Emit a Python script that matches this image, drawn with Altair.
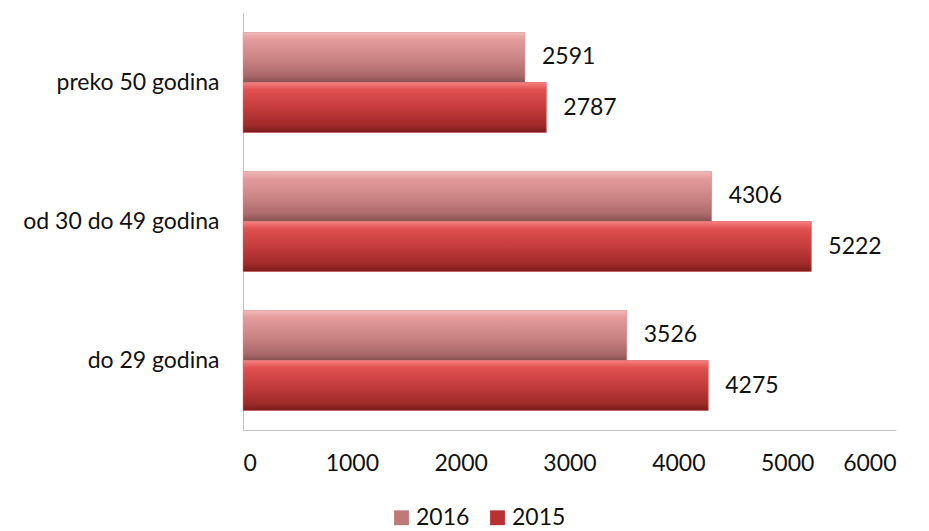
import altair as alt
import pandas as pd

categories = ["preko 50 godina", "od 30 do 49 godina", "do 29 godina"]
years = ["2016", "2015"]
values_2016 = [2591, 4306, 3526]
values_2015 = [2787, 5222, 4275]
tick_values = [0, 1000, 2000, 3000, 4000, 5000, 6000]

rows = []
for c, v16, v15 in zip(categories, values_2016, values_2015):
    rows.append({"cat": c, "year": "2016", "value": v16})
    rows.append({"cat": c, "year": "2015", "value": v15})
df = pd.DataFrame(rows)

FONT = "Lato"
FS = 23
solid = {"2016": "#c07878", "2015": "#b83232"}
grads = {
    "2016": [("#f2b8b8", 0.0), ("#e39a9a", 0.15), ("#c98282", 0.55), ("#ab6a6a", 0.85), ("#8a5252", 1.0)],
    "2015": [("#f58080", 0.0), ("#e05050", 0.15), ("#c03a3a", 0.55), ("#a02a2a", 0.85), ("#7a1c1c", 1.0)],
}

y_enc = alt.Y("cat:N", sort=categories, title=None,
              scale=alt.Scale(paddingInner=0.28, paddingOuter=0.14),
              axis=alt.Axis(ticks=False, domainColor="#bfbfbf", labelFont=FONT, labelLimit=400,
                            labelFontSize=FS, labelColor="#111111", labelPadding=24))
x_enc = alt.X("value:Q", title=None,
              scale=alt.Scale(domain=[0, 6000]),
              axis=alt.Axis(values=tick_values, grid=False, format="d",
                            ticks=False, domainColor="#bfbfbf", labelFont=FONT,
                            labelFontSize=FS, labelColor="#111111", labelPadding=22))
yoff = alt.YOffset("year:N", sort=years, scale=alt.Scale(domain=years))

base = alt.Chart(df)

legend_layer = base.mark_bar().encode(
    y=y_enc, x=x_enc, yOffset=yoff,
    color=alt.Color("year:N", scale=alt.Scale(domain=years, range=[solid[y] for y in years]),
                    legend=alt.Legend(title=None, orient="none", direction="horizontal",
                                      legendX=147, legendY=493, symbolType="square",
                                      symbolSize=220, labelFont=FONT, labelFontSize=FS,
                                      labelColor="#111111", columnPadding=16, labelOffset=3,
                                      symbolStrokeWidth=0)),
)

layers = [legend_layer]
for yr in years:
    g = alt.Gradient(gradient="linear", x1=0, x2=0, y1=0, y2=1,
                     stops=[alt.GradientStop(color=c, offset=o) for c, o in grads[yr]])
    layers.append(
        base.transform_filter(alt.datum.year == yr).mark_bar(
            color=g, stroke="#d9a0a0" if yr == "2016" else "#e07070", strokeWidth=0.5).encode(
            y=y_enc, x=x_enc, yOffset=yoff)
    )

text_layer = base.mark_text(align="left", baseline="middle", dx=17, font=FONT,
                            fontSize=FS, color="#111111").encode(
    y=y_enc, x=x_enc, yOffset=yoff, text=alt.Text("value:Q", format="d"))
layers.append(text_layer)

chart = alt.layer(*layers).properties(
    width=653, height=417,
    autosize=alt.AutoSizeParams(type="none"),
    padding={"left": 235, "top": 5, "right": 25, "bottom": 100},
).configure(background="white").configure_view(stroke=None, strokeWidth=0)

chart.save("out.html", embed_options={"renderer": "svg", "actions": False})
